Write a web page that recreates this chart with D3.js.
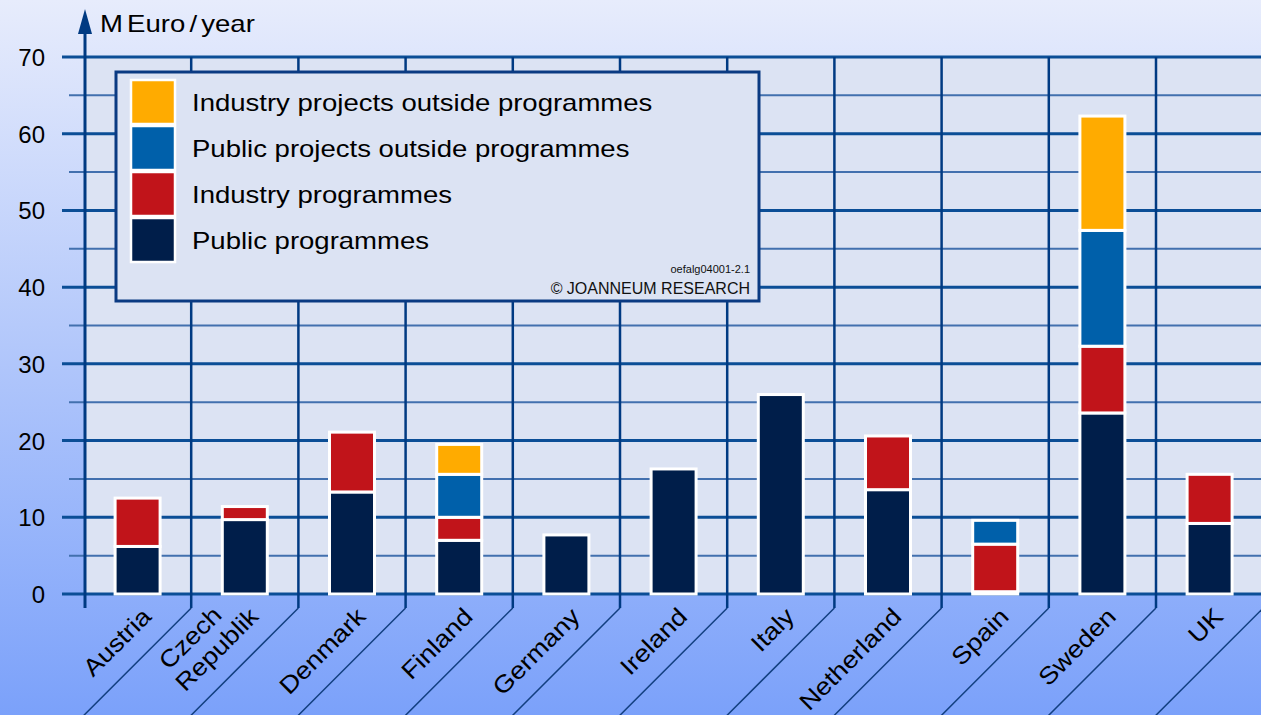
<!DOCTYPE html>
<html><head><meta charset="utf-8">
<script src="https://cdn.jsdelivr.net/npm/d3@7"></script>
<style>html,body{margin:0;padding:0;overflow:hidden;}svg{display:block;font-family:"Liberation Sans",Arial,sans-serif;}</style>
</head><body>
<script>
const countries = ["Austria","Czech Republik","Denmark","Finland","Germany","Ireland","Italy","Netherland","Spain","Sweden","UK"];
const seriesNames = ["Public programmes","Industry programmes","Public projects outside programmes","Industry projects outside programmes"];
const publicProgrammes   = [6.2, 9.7, 13.3, 7.0, 7.7, 16.3, 26.0, 13.6, 0.3, 23.6, 9.2];
const industryProgrammes = [6.3, 1.7, 7.8, 3.0, 0, 0, 0, 7.0, 6.2, 8.7, 6.4];
const publicProjects     = [0, 0, 0, 5.6, 0, 0, 0, 0, 3.1, 15.1, 0];
const industryProjects   = [0, 0, 0, 3.9, 0, 0, 0, 0, 0, 14.9, 0];
const colors = ["#001e4a","#c1141a","#0060aa","#ffab00"];
const yTicks = [0,10,20,30,40,50,60,70];
const yMinor = [5,15,25,35,45,55,65];

const W = 1261, H = 715;
const SX = 1.147;
const svg = d3.select("body").append("svg").attr("width",W).attr("height",H);
const defs = svg.append("defs");
const grad = defs.append("linearGradient").attr("id","bg").attr("x1",0).attr("y1",0).attr("x2",0).attr("y2",1);
grad.append("stop").attr("offset","0%").attr("stop-color","#e7ecfc");
grad.append("stop").attr("offset","100%").attr("stop-color","#7ba1fa");
svg.append("rect").attr("width",W).attr("height",H).attr("fill","url(#bg)");

const x0 = 84, bandW = 107.2;
const x = d3.scaleBand().domain(countries).range([x0, x0 + bandW*countries.length]).padding(0);
const y = d3.scaleLinear().domain([0,70]).range([594,57]);

// plot area
svg.append("rect").attr("x",x0).attr("y",y(70)).attr("width",W-x0).attr("height",y(0)-y(70)).attr("fill","#dce3f3");

// minor grid
svg.append("g").selectAll("line").data(yMinor).join("line")
  .attr("x1",69).attr("x2",W).attr("y1",d=>y(d)).attr("y2",d=>y(d))
  .attr("stroke","#4270ae").attr("stroke-width",2);
// major grid
svg.append("g").selectAll("line").data(yTicks).join("line")
  .attr("x1",62).attr("x2",W).attr("y1",d=>y(d)).attr("y2",d=>y(d))
  .attr("stroke","#0b4e96").attr("stroke-width",3);

// separators
const seps = countries.map(c => x(c) + x.bandwidth());
svg.append("g").selectAll("line").data(seps).join("line")
  .attr("x1",d=>d).attr("x2",d=>d).attr("y1",y(70)).attr("y2",608)
  .attr("stroke","#003a82").attr("stroke-width",2.5);
svg.append("g").selectAll("line").data(seps).join("line")
  .attr("x1",d=>d).attr("x2",d=>d-120).attr("y1",608).attr("y2",728)
  .attr("stroke","#123f80").attr("stroke-width",1.5);

// stacked bars
const rows = countries.map((c,i)=>({country:c, s0:publicProgrammes[i], s1:industryProgrammes[i], s2:publicProjects[i], s3:industryProjects[i]}));
const stack = d3.stack().keys(["s0","s1","s2","s3"])(rows);
const barW = 45;
svg.append("g").selectAll("g").data(stack).join("g").attr("fill",(d,i)=>colors[i])
  .selectAll("rect").data(d=>d.filter(p=>p[1]-p[0]>0)).join("rect")
  .attr("x",d=>x(d.data.country)+x.bandwidth()/2-barW/2)
  .attr("width",barW)
  .attr("y",d=>y(d[1]))
  .attr("height",d=>y(d[0])-y(d[1]))
  .attr("stroke","#ffffff").attr("stroke-width",3);

// y tick labels
svg.append("g").selectAll("text").data(yTicks).join("text")
  .attr("x",45).attr("y",d=>y(d)+9).attr("text-anchor","end")
  .attr("font-size",24).attr("fill","#000").text(d=>d);

// axis line with arrow
svg.append("line").attr("x1",85).attr("x2",85).attr("y1",30).attr("y2",608)
  .attr("stroke","#003a82").attr("stroke-width",3);
svg.append("path").attr("d","M85,9 L92,34 L78,34 Z").attr("fill","#003a82");
svg.append("text").attr("transform",`translate(100,32) scale(${SX},1)`).attr("font-size",24)
  .attr("word-spacing","-3px").attr("fill","#000").text("M Euro / year");

// x labels
const lab = svg.append("g");
countries.forEach(c=>{
  const cx = x(c)+x.bandwidth()/2;
  const t = lab.append("text").attr("transform",`translate(${cx+15},618) rotate(-45) scale(1.13,1)`)
    .attr("text-anchor","end").attr("font-size",24).attr("fill","#000");
  if (c === "Czech Republik") {
    t.append("tspan").attr("x",-22).attr("dy",-27).text("Czech");
    t.append("tspan").attr("x",0).attr("dy",27).text("Republik");
  } else t.text(c);
});

// legend
const lg = svg.append("g");
lg.append("rect").attr("x",116).attr("y",72).attr("width",643).attr("height",229)
  .attr("fill","#dce3f3").attr("stroke","#0a3a82").attr("stroke-width",3);
const legendOrder = [3,2,1,0];
legendOrder.forEach((si,k)=>{
  const ry = 80 + k*46;
  lg.append("rect").attr("x",131).attr("y",ry).attr("width",44).attr("height",44)
    .attr("fill",colors[si]).attr("stroke","#fff").attr("stroke-width",2.5);
  lg.append("text").attr("transform",`translate(192,${ry+31}) scale(${SX},1)`)
    .attr("font-size",24).attr("fill","#000").text(seriesNames[si]);
});
lg.append("text").attr("x",750).attr("y",273).attr("text-anchor","end").attr("font-size",11).attr("fill","#111").text("oefalg04001-2.1");
lg.append("text").attr("x",750).attr("y",294).attr("text-anchor","end").attr("font-size",16).attr("fill","#111").text("© JOANNEUM RESEARCH");
</script>
</body></html>
